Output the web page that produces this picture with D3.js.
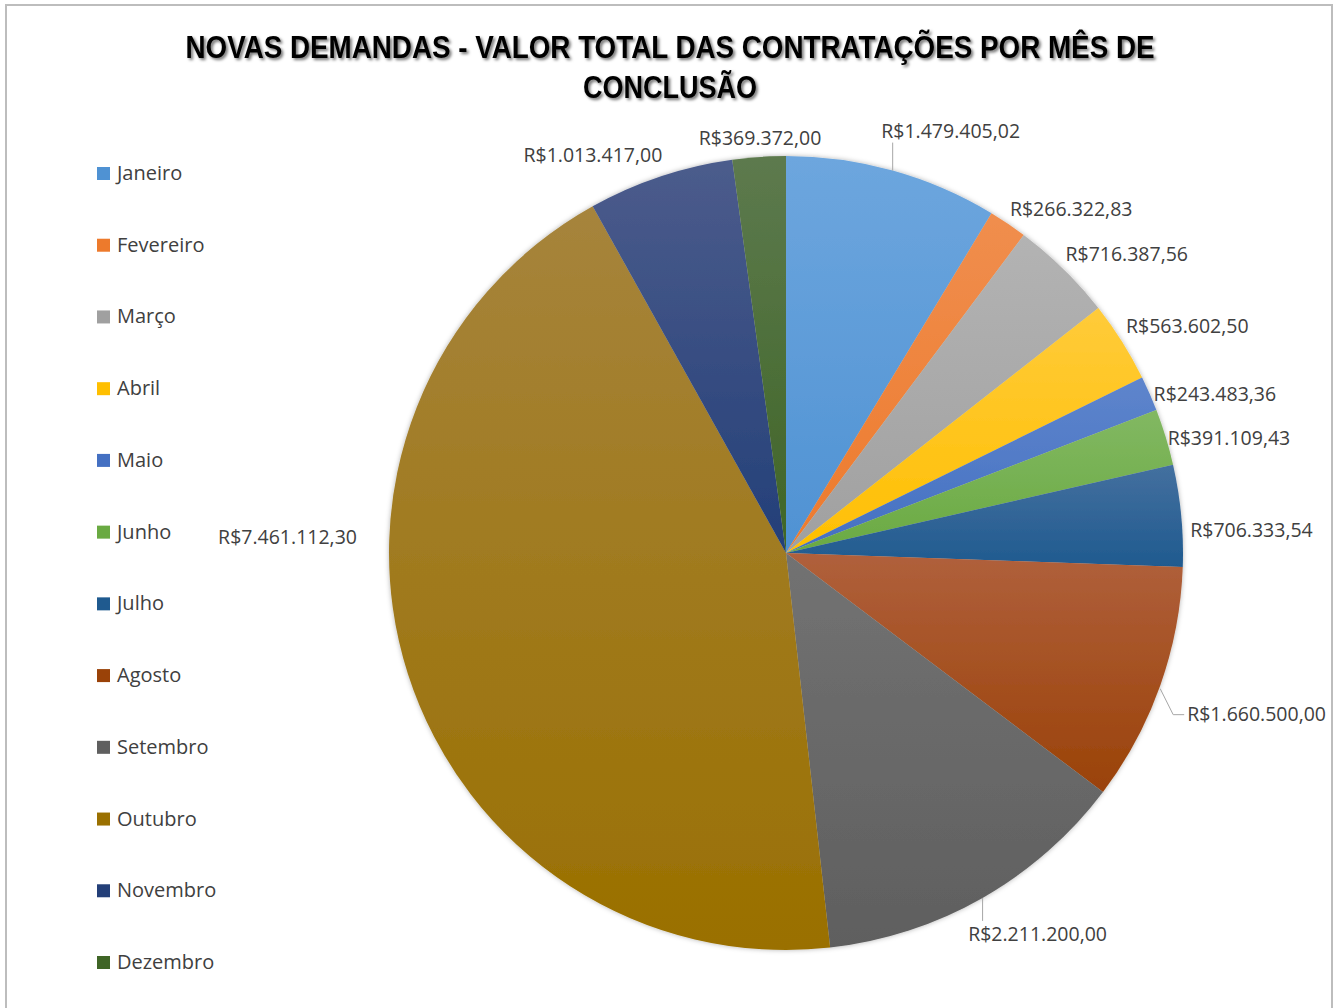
<!DOCTYPE html>
<html>
<head>
<meta charset="utf-8">
<script src="https://cdn.jsdelivr.net/npm/d3@7"></script>
<style>
  body { margin: 0; background: #fff; }
  svg { display: block; }
</style>
</head>
<body>
<div id="chart"></div>
<script>
const months = ["Janeiro", "Fevereiro", "Março", "Abril", "Maio", "Junho",
  "Julho", "Agosto", "Setembro", "Outubro", "Novembro", "Dezembro"];
const values = [1479405.02, 266322.83, 716387.56, 563602.50, 243483.36, 391109.43,
  706333.54, 1660500.00, 2211200.00, 7461112.30, 1013417.00, 369372.00];
const baseColors = ["#4f92d3", "#ed7a2c", "#a0a0a0", "#ffbf00", "#4470c2", "#6aaa42",
  "#1f5a8f", "#9a4208", "#5f5f5f", "#9a7000", "#233f78", "#3f6526"];
const topColors = ["#6da6de", "#f08e4e", "#b3b3b3", "#ffcb3a", "#5e85cc", "#82b862",
  "#44709f", "#b0603c", "#727272", "#a6843c", "#4c5c8c", "#5d7a4e"];
const titleLines = ["NOVAS DEMANDAS - VALOR TOTAL DAS CONTRATAÇÕES POR MÊS DE", "CONCLUSÃO"];

// label placement relative to the slice's outer point: [anchor, dx, dy, leader]
const labelLayout = [
  ["middle", 58, -39, "up"],
  ["start", 2, -15, null],
  ["start", 2, -15, null],
  ["start", 4, -15, null],
  ["start", 4, 1, null],
  ["start", 2, 1, null],
  ["start", 9, 15, null],
  ["start", 27, 29, "elbow"],
  ["middle", 55, 36, "down"],
  ["end", -51, -137, null],
  ["end", 2, -21, null],
  ["middle", 1, -19, null]
];

const width = 1335, height = 1008;
const cx = 786, cy = 553, radius = 397;

const ptBR = d3.formatLocale({
  decimal: ",", thousands: ".", grouping: [3], currency: ["R$", ""]
});
const fmt = ptBR.format("$,.2f");

const data = months.map((m, i) => ({ month: m, value: values[i], i }));

const svg = d3.select("#chart").append("svg")
  .attr("width", width)
  .attr("height", height)
  .style("font-family", "'Open Sans', sans-serif");

const defs = svg.append("defs");
defs.append("filter").attr("id", "titleShadow")
  .attr("x", "-5%").attr("y", "-30%").attr("width", "110%").attr("height", "160%")
  .append("feDropShadow")
  .attr("dx", 2).attr("dy", 2).attr("stdDeviation", 1.6)
  .attr("flood-color", "#000").attr("flood-opacity", 0.55);
defs.append("filter").attr("id", "pieShadow")
  .attr("x", "-10%").attr("y", "-10%").attr("width", "120%").attr("height", "120%")
  .append("feDropShadow")
  .attr("dx", 0).attr("dy", 0).attr("stdDeviation", 2.5)
  .attr("flood-color", "#000").attr("flood-opacity", 0.3);

data.forEach((d) => {
  const g = defs.append("linearGradient")
    .attr("id", `grad${d.i}`)
    .attr("x1", 0).attr("y1", 0).attr("x2", 0).attr("y2", 1);
  g.append("stop").attr("offset", "0%").attr("stop-color", topColors[d.i]);
  g.append("stop").attr("offset", "100%").attr("stop-color", baseColors[d.i]);
});

svg.append("rect")
  .attr("width", width).attr("height", height).attr("fill", "#fff");

svg.append("rect")
  .attr("x", 6).attr("y", 5)
  .attr("width", 1326).attr("height", 1020)
  .attr("fill", "none")
  .attr("stroke", "#bdbdbd")
  .attr("stroke-width", 2);

// title
svg.append("g")
  .attr("filter", "url(#titleShadow)")
  .selectAll("text")
  .data(titleLines)
  .join("text")
  .attr("x", 670)
  .attr("y", (d, i) => 58 + i * 40)
  .attr("text-anchor", "middle")
  .attr("textLength", (d, i) => (i === 0 ? 969 : 174))
  .attr("lengthAdjust", "spacingAndGlyphs")
  .style("font-family", "'Liberation Sans Narrow', 'Arial Narrow', sans-serif")
  .style("font-weight", "bold")
  .style("font-size", "31px")
  .attr("fill", "#000")
  .text((d) => d);

// pie
const pie = d3.pie().sort(null).value((d) => d.value);
const arc = d3.arc().innerRadius(0).outerRadius(radius);
const arcs = pie(data);

const g = svg.append("g").attr("transform", `translate(${cx},${cy})`);

g.append("g")
  .attr("filter", "url(#pieShadow)")
  .selectAll("path")
  .data(arcs)
  .join("path")
  .attr("d", arc)
  .attr("fill", (d) => `url(#grad${d.data.i})`);

// data labels
const outer = (d) => {
  const a = (d.startAngle + d.endAngle) / 2;
  return [radius * Math.sin(a), -radius * Math.cos(a)];
};

arcs.forEach((d) => {
  const [px, py] = outer(d);
  const [anchor, dx, dy, leader] = labelLayout[d.data.i];
  if (leader === "up") {
    g.append("path")
      .attr("d", `M${px},${py}V${py + dy + 11}`)
      .attr("stroke", "#a6a6a6").attr("fill", "none");
  } else if (leader === "down") {
    g.append("path")
      .attr("d", `M${px},${py}V${py + dy - 13}`)
      .attr("stroke", "#a6a6a6").attr("fill", "none");
  } else if (leader === "elbow") {
    g.append("path")
      .attr("d", `M${px},${py + 3}L${px + 13},${py + dy}H${px + dx - 3}`)
      .attr("stroke", "#a6a6a6").attr("fill", "none");
  }
  g.append("text")
    .attr("x", px + dx)
    .attr("y", py + dy)
    .attr("dy", "0.35em")
    .attr("text-anchor", anchor)
    .style("font-size", "19.5px")
    .attr("fill", "#404040")
    .text(fmt(d.data.value));
});

// legend
const ly = d3.scalePoint().domain(months).range([173, 962]);
const legend = svg.append("g")
  .selectAll("g")
  .data(data)
  .join("g")
  .attr("transform", (d) => `translate(97,${ly(d.month)})`);

legend.append("rect")
  .attr("x", 0).attr("y", -6)
  .attr("width", 13).attr("height", 13)
  .attr("fill", (d) => baseColors[d.i]);

legend.append("text")
  .attr("x", 20)
  .attr("dy", "0.35em")
  .style("font-size", "20px")
  .attr("fill", "#404040")
  .text((d) => d.month);
</script>
</body>
</html>
